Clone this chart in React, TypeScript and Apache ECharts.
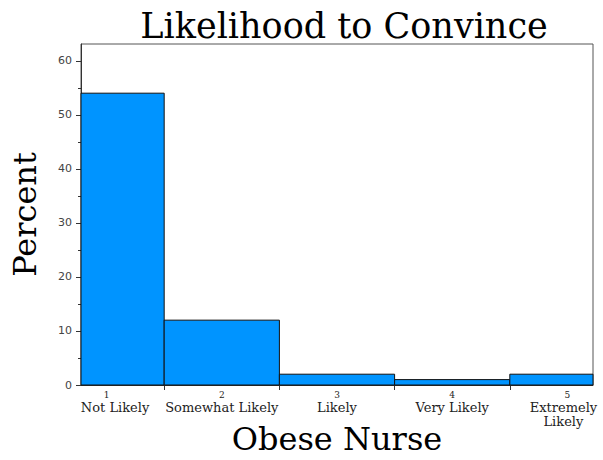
import React, { useEffect, useRef } from "react";
import * as echarts from "echarts";

const categories = ["Not Likely", "Somewhat Likely", "Likely", "Very Likely", "Extremely\nLikely"];
const codes = [1, 2, 3, 4, 5];
const percents = [54, 12, 2, 1, 2];
const yTickValues = [0, 10, 20, 30, 40, 50, 60];
const yMinorValues = [5, 15, 25, 35, 45, 55];
const binEdges = [1.5, 2.5, 3.5, 4.5];

// label nudges (px) to keep edge labels inside the frame, as in the reference
const labelPad = [[0, 0, 0, 17], [0, 0, 0, 0], [0, 0, 0, 0], [0, 0, 0, 0], [0, 8, 0, 0]];

export default function App() {
  const ref = useRef<HTMLDivElement>(null);
  useEffect(() => {
    if (!ref.current) return;
    const chart = echarts.init(ref.current, null, { renderer: "svg" });
    const data = codes.map((c, i) => [c, percents[i]]);
    const serif = "'DejaVu Serif', serif";
    const rich: any = { n: { fontFamily: serif, fontSize: 9, color: "#222", lineHeight: 10 } };
    labelPad.forEach((p, i) => {
      rich["t" + i] = { fontFamily: serif, fontSize: 13, color: "#222", lineHeight: 14, padding: p };
    });
    const option: any = {
      animation: false,
      backgroundColor: "#fff",
      title: [
        {
          text: "Likelihood to Convince",
          left: 339,
          top: 3,
          textAlign: "center",
          textStyle: { fontFamily: serif, fontWeight: "normal", fontSize: 35, color: "#000" },
        },
      ],
      grid: {
        left: 81,
        right: 10,
        top: 44,
        bottom: 75,
        show: true,
        borderColor: "#555",
        borderWidth: 1,
        containLabel: false,
        outerBoundsMode: "none",
      },
      xAxis: {
        type: "value",
        min: 0.778,
        max: 5.222,
        name: "Obese Nurse",
        nameLocation: "middle",
        nameGap: 38,
        nameMoveOverlap: false,
        nameTextStyle: { fontFamily: serif, fontSize: 32, color: "#000" },
        axisLine: { show: true, lineStyle: { color: "#333" } },
        splitLine: { show: false },
        axisTick: { show: true, customValues: binEdges, length: 5, lineStyle: { color: "#333" } },
        axisLabel: {
          customValues: codes,
          margin: 5,
          hideOverlap: false,
          formatter: (v: number) => {
            const i = codes.indexOf(Math.round(v));
            return (
              "{n|" + codes[i] + "}\n" +
              categories[i].split("\n").map((s) => "{t" + i + "|" + s + "}").join("\n")
            );
          },
          rich,
        },
      },
      yAxis: [
        {
          type: "value",
          min: 0,
          max: 63.1,
          name: "Percent",
          nameLocation: "middle",
          nameGap: 40,
          nameMoveOverlap: false,
          nameTextStyle: { fontFamily: serif, fontSize: 32, color: "#000" },
          axisLine: { show: true, lineStyle: { color: "#333" } },
          splitLine: { show: false },
          axisTick: { show: true, customValues: yTickValues, length: 5, lineStyle: { color: "#333" } },
          axisLabel: {
            customValues: yTickValues,
            margin: 9,
            fontFamily: "'DejaVu Sans', sans-serif",
            fontSize: 11,
            color: "#444",
          },
        },
        {
          type: "value",
          min: 0,
          max: 63.1,
          position: "left",
          axisLine: { show: false },
          splitLine: { show: false },
          axisTick: { show: true, customValues: yMinorValues, length: 3, lineStyle: { color: "#333" } },
          axisLabel: { show: false, customValues: yMinorValues },
        },
      ],
      series: [
        {
          type: "custom",
          xAxisIndex: 0,
          yAxisIndex: 0,
          data,
          encode: { x: 0, y: 1 },
          renderItem: (params: any, api: any) => {
            const x = api.value(0);
            const y = api.value(1);
            const p0 = api.coord([x - 0.5, y]);
            const p1 = api.coord([x + 0.5, 0]);
            const cs = params.coordSys;
            const shape = echarts.graphic.clipRectByRect(
              { x: p0[0], y: p0[1], width: p1[0] - p0[0], height: p1[1] - p0[1] },
              { x: cs.x, y: cs.y, width: cs.width, height: cs.height }
            );
            if (!shape) return null;
            return {
              type: "rect",
              shape,
              style: { fill: "#0094ff", stroke: "#111", lineWidth: 1 },
            };
          },
        },
      ],
    };
    chart.setOption(option);
    return () => chart.dispose();
  }, []);
  return <div ref={ref} style={{ width: 603, height: 460, position: "absolute", left: 0, top: 0 }} />;
}
